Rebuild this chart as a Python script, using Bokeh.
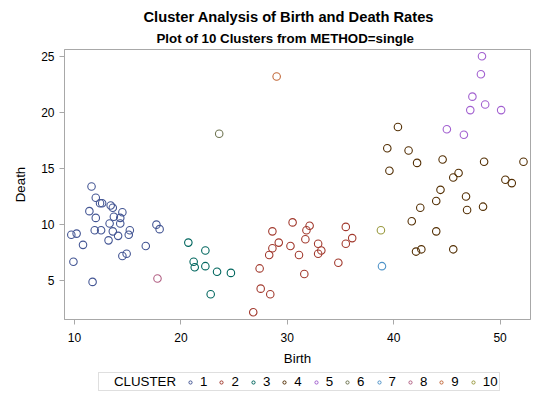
from bokeh.plotting import figure
from bokeh.layouts import column
from bokeh.models import (ColumnDataSource, Legend, LegendItem, FixedTicker,
                          Range1d, Title)
from bokeh.embed import file_html
from bokeh.resources import INLINE

# ---------------- data ----------------
birth_1 = [11.6, 12.0, 12.4, 12.6, 13.4, 13.6, 14.5, 11.4, 12.0, 13.7, 14.3, 13.3, 14.3, 9.7, 10.2,
           11.9, 12.5, 13.6, 15.2, 15.1, 14.1, 13.2, 10.8, 16.7, 17.7, 18.0, 14.5, 14.9, 9.9, 11.7]
death_1 = [13.4, 12.4, 11.9, 11.9, 11.7, 11.5, 11.1, 11.2, 10.6, 10.7, 10.6, 10.1, 10.1, 9.1, 9.2,
           9.5, 9.5, 9.4, 9.5, 9.1, 9.0, 8.6, 8.2, 8.1, 10.0, 9.6, 7.2, 7.4, 6.7, 4.9]
birth_2 = [30.5, 32.1, 31.8, 28.6, 35.5, 36.1, 35.5, 29.2, 31.7, 28.6, 28.3, 30.3, 31.1, 32.9, 33.2,
           32.9, 34.8, 31.6, 27.4, 27.5, 28.4, 26.8]
death_2 = [10.2, 9.9, 9.5, 9.4, 9.8, 8.8, 8.3, 8.4, 8.7, 7.9, 7.3, 8.1, 7.3, 8.3, 7.7,
           7.4, 6.6, 5.6, 6.1, 4.3, 3.8, 2.2]
birth_3 = [20.7, 22.3, 21.2, 21.3, 22.3, 23.4, 24.7, 22.8]
death_3 = [8.4, 7.7, 6.7, 6.2, 6.3, 5.8, 5.7, 3.8]
birth_4 = [40.4, 39.4, 41.4, 42.2, 44.6, 48.5, 52.2, 39.6, 46.1, 45.6, 50.5, 51.1, 44.4, 44.0, 46.8,
           42.5, 46.9, 48.4, 41.7, 44.0, 42.1, 42.6, 45.6]
death_4 = [18.7, 16.8, 16.6, 15.5, 15.8, 15.6, 15.6, 14.8, 14.6, 14.2, 14.0, 13.7, 13.1, 12.1, 12.5,
           11.5, 11.3, 11.6, 10.3, 9.4, 7.6, 7.8, 7.8]
birth_5 = [48.3, 48.2, 47.4, 48.6, 47.2, 50.1, 45.0, 46.6]
death_5 = [25.0, 23.4, 21.4, 20.7, 20.2, 20.2, 18.5, 18.0]
birth_6 = [23.6]
death_6 = [18.1]
birth_7 = [38.9]
death_7 = [6.3]
birth_8 = [17.8]
death_8 = [5.2]
birth_9 = [29.0]
death_9 = [23.2]
birth_10 = [38.8]
death_10 = [9.5]

legend_title = "CLUSTER"
cluster_labels = ["1", "2", "3", "4", "5", "6", "7", "8", "9", "10"]
x_ticks = [10, 20, 30, 40, 50]
y_ticks = [5, 10, 15, 20, 25]

births = [birth_1, birth_2, birth_3, birth_4, birth_5, birth_6, birth_7, birth_8, birth_9, birth_10]
deaths = [death_1, death_2, death_3, death_4, death_5, death_6, death_7, death_8, death_9, death_10]

colors = ["#445694", "#A23A2E", "#01665E", "#543005", "#A260D0",
          "#6F7552", "#4F93C8", "#B26084", "#C2693A", "#9A9A40"]

FONT = "Liberation Sans"
NAN = float("nan")

# ---------------- main scatter ----------------
p = figure(width=540, height=370, output_backend="svg", toolbar_location=None,
           x_range=Range1d(9.06, 52.86), y_range=Range1d(1.55, 25.6),
           min_border_left=64, min_border_right=10, min_border_top=49, min_border_bottom=51)
p.title = None
p.grid.visible = False
p.background_fill_color = "white"
p.border_fill_color = "white"
p.outline_line_color = "#A8A8A8"
p.outline_line_width = 1

for i in range(len(births)):
    src = ColumnDataSource(dict(birth=births[i], death=deaths[i]))
    p.scatter("birth", "death", source=src, marker="circle", size=7.5,
              fill_color=None, line_color=colors[i], line_width=1.1)

for ax, ticks, lab in ((p.xaxis[0], x_ticks, "Birth"), (p.yaxis[0], y_ticks, "Death")):
    ax.ticker = FixedTicker(ticks=ticks, minor_ticks=[])
    ax.axis_label = lab
    ax.axis_label_text_font = FONT
    ax.axis_label_text_font_size = "13.3px"
    ax.axis_label_text_font_style = "normal"
    ax.axis_label_text_color = "black"
    ax.major_label_text_font = FONT
    ax.major_label_text_font_size = "12px"
    ax.major_label_text_color = "black"
    ax.axis_line_color = "#A8A8A8"
    ax.major_tick_line_color = "#A8A8A8"
    ax.major_tick_out = 5
    ax.major_tick_in = 0
    ax.minor_tick_line_color = None
p.xaxis.major_label_standoff = 8
p.xaxis.axis_label_standoff = 6
p.yaxis.major_label_standoff = 5
p.yaxis.axis_label_standoff = 10

sub = Title(text="Plot of 10 Clusters from METHOD=single", align="left", offset=92,
            text_font=FONT, text_font_size="13.3px", text_font_style="bold",
            text_color="black", standoff=8)
main = Title(text="Cluster Analysis of Birth and Death Rates", align="left", offset=79,
             text_font=FONT, text_font_size="14.7px", text_font_style="bold",
             text_color="black", standoff=0)
p.add_layout(sub, "above")
p.add_layout(main, "above")

# ---------------- legend strip ----------------
lg = figure(width=540, height=30, output_backend="svg", toolbar_location=None,
            x_range=Range1d(0, 1), y_range=Range1d(0, 1),
            x_axis_type=None, y_axis_type=None, min_border=0)
lg.title = None
lg.grid.visible = False
lg.outline_line_color = None
lg.background_fill_color = "white"
lg.border_fill_color = "white"

title_proxy = lg.scatter(x=[NAN], y=[NAN], marker="circle", size=0, fill_alpha=0, line_alpha=0)
legend_items = [LegendItem(label=legend_title, renderers=[title_proxy])]
for i in range(len(cluster_labels)):
    proxy = lg.scatter(x=[NAN], y=[NAN], marker="circle", size=6.5, fill_color=None,
                       line_color=colors[i], line_width=1)
    legend_items.append(LegendItem(label=cluster_labels[i], renderers=[proxy]))

# the strip's frame is aligned with the main frame (left edge at 64 px)
legend = Legend(items=legend_items, orientation="horizontal",
                location=(34, 9), margin=0, padding=1, spacing=10,
                glyph_width=8, glyph_height=12, label_height=12, label_width=6,
                label_standoff=6,
                label_text_font=FONT, label_text_font_size="13.3px", label_text_color="black",
                border_line_color="#C0C0C0", border_line_width=1,
                background_fill_color="white")
lg.add_layout(legend, "center")

layout = column(p, lg, spacing=0)
open("out.html", "w").write(file_html(layout, INLINE))
